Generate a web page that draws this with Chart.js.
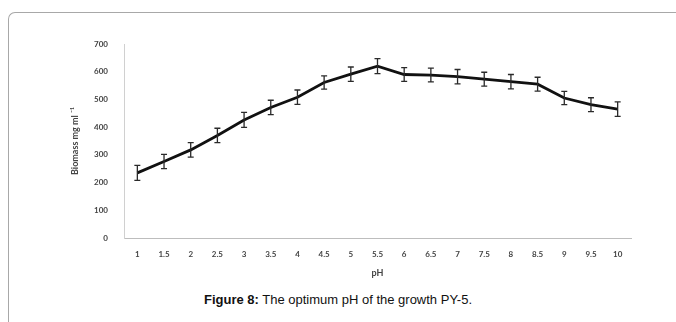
<!DOCTYPE html>
<html>
<head>
<meta charset="utf-8">
<script src="https://cdn.jsdelivr.net/npm/chart.js@4"></script>
<style>
  body { margin: 0; width: 676px; height: 322px; background: #fff; position: relative; overflow: hidden; }
  #frame { position: absolute; left: 8px; top: 12px; width: 680px; height: 320px;
           border-left: 1.5px solid #a8a8a8; border-top: 1.5px solid #a8a8a8; border-top-left-radius: 7px; }
  #wrap { position: absolute; left: 0; top: 0; width: 676px; height: 290px; }
  #caption { position: absolute; left: 0; width: 676px; top: 292px; text-align: center;
             font-family: "Liberation Sans", Arial, sans-serif; font-size: 13px; color: #111; }
  #caption b { font-weight: bold; }
</style>
</head>
<body>
<div id="frame"></div>
<div id="wrap"><canvas id="chart"></canvas></div>
<div id="caption"><b>Figure 8:</b> The optimum pH of the growth PY-5.</div>
<script>
const phLabels = ['1', '1.5', '2', '2.5', '3', '3.5', '4', '4.5', '5', '5.5', '6', '6.5', '7', '7.5', '8', '8.5', '9', '9.5', '10'];
const biomass = [235, 276, 318, 370, 426, 471, 508, 561, 591, 620, 590, 588, 582, 573, 564, 555, 505, 481, 465];
const errors = [27, 26, 26, 26, 27, 26, 26, 24, 26, 27, 25, 25, 26, 25, 26, 25, 24, 25, 26];
const yTicks = [0, 100, 200, 300, 400, 500, 600, 700];

// draw error bars using the chart's own scales
const errorBars = {
    id: 'errorBars',
    afterDatasetsDraw(chart) {
        const ctx = chart.ctx;
        const yScale = chart.scales.y;
        const meta = chart.getDatasetMeta(0);
        ctx.save();
        ctx.strokeStyle = '#2a2a2a';
        ctx.lineWidth = 1.3;
        meta.data.forEach((pt, i) => {
            const top = yScale.getPixelForValue(biomass[i] + errors[i]);
            const bottom = yScale.getPixelForValue(biomass[i] - errors[i]);
            ctx.beginPath();
            ctx.moveTo(pt.x, top);
            ctx.lineTo(pt.x, bottom);
            ctx.moveTo(pt.x - 3, top);
            ctx.lineTo(pt.x + 3, top);
            ctx.moveTo(pt.x - 3, bottom);
            ctx.lineTo(pt.x + 3, bottom);
            ctx.stroke();
        });
        ctx.restore();
    }
};

const tickFont = { family: 'Lato', size: 8, weight: 'bold' };

new Chart(document.getElementById('chart'), {
    type: 'line',
    data: {
        labels: phLabels,
        datasets: [{
            data: biomass,
            borderColor: '#111',
            borderWidth: 2.8,
            pointRadius: 0,
            tension: 0,
            fill: false
        }]
    },
    options: {
        responsive: true,
        maintainAspectRatio: false,
        animation: false,
        layout: { padding: { left: 60, right: 45, top: 44, bottom: 0 } },
        plugins: { legend: { display: false }, tooltip: { enabled: false } },
        scales: {
            x: {
                type: 'category',
                offset: true,
                afterFit(scale) { scale.height = 52; },
                grid: { display: false, drawTicks: false },
                border: { display: true, color: '#bdbdbd', width: 1 },
                ticks: { color: '#444', font: tickFont, padding: 12, maxRotation: 0, autoSkip: false },
                title: { display: true, text: 'pH', color: '#444',
                         font: { family: 'Lato', size: 9, weight: 'bold' }, padding: { top: 4, bottom: 12 } }
            },
            y: {
                min: 0,
                max: 700,
                afterFit(scale) { scale.width = 64; },
                afterBuildTicks(scale) { scale.ticks = yTicks.map(v => ({ value: v })); },
                grid: { display: false, drawTicks: false },
                border: { display: true, color: '#d0d0d0', width: 1 },
                ticks: { color: '#444', font: tickFont, padding: 16 },
                title: { display: true, text: 'Biomass mg ml ⁻¹', color: '#444',
                         font: { family: 'Lato', size: 9, weight: 'bold' }, padding: { top: 10, bottom: 4 } }
            }
        }
    },
    plugins: [errorBars]
});
</script>
</body>
</html>
